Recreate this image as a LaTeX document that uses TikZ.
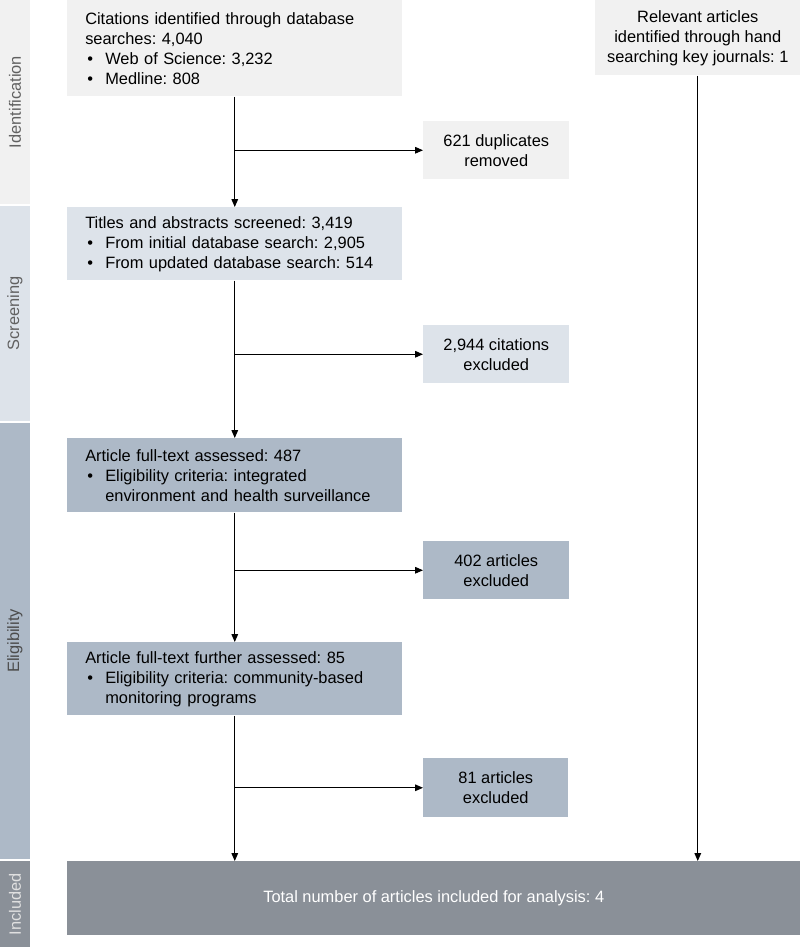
\documentclass[tikz,border=0pt]{standalone}
\usepackage{fontspec}
\setmainfont{Liberation Sans}
\usetikzlibrary{arrows.meta}

\definecolor{idgray}{HTML}{F1F1F1}
\definecolor{scrblue}{HTML}{DDE3EA}
\definecolor{eligblue}{HTML}{ADB9C7}
\definecolor{inclgray}{HTML}{8A9098}

\newcommand{\bul}{\makebox[15pt][l]{\hspace{1.5pt}\textbullet}}
\frenchspacing

\begin{document}
\begin{tikzpicture}[x=0.75pt,y=0.75pt,yscale=-1,xscale=1,
    font=\fontsize{12.3}{15}\selectfont,
    phase/.style={rotate=90, inner sep=0pt, minimum height=22.5pt, text=black!62},
    box/.style={anchor=north west, inner xsep=13.5pt, inner ysep=0pt, text width=224.25pt, minimum height=55pt, align=left},
    sidebox/.style={anchor=north west, inner sep=0pt, minimum width=109.5pt, minimum height=43.5pt, align=center},
    arr/.style={-{Triangle[length=6pt,width=5pt]}, line width=0.75pt}]
        \useasboundingbox (0,0) rectangle (800,949);

        % Phase bars
        \node [phase, fill=idgray, minimum width=153pt] (ident) at (15,102) {Identification};
        \node [phase, fill=scrblue, minimum width=161.25pt] (screen) at (15,313.5) {Screening};
        \node [phase, fill=eligblue, minimum width=327pt, text=black!70] (elig) at (15,641) {Eligibility};
        \node [phase, fill=inclgray, minimum width=64.5pt, text=white!88!black] (incl) at (15,904) {Included};

        % Main column
        \node [box, fill=idgray, minimum height=72pt] (cites) at (67,0) {Citations identified through database\\searches: 4,040\\\bul Web of Science: 3,232\\\bul Medline: 808};
        \node [box, fill=scrblue, minimum height=54.75pt] (titles) at (67,207) {Titles and abstracts screened: 3,419\\\bul From initial database search: 2,905\\\bul From updated database search: 514};
        \node [box, fill=eligblue, minimum height=55.5pt] (fulltext) at (67,438) {Article full-text assessed: 487\\\bul Eligibility criteria: integrated\\\hspace*{15pt}environment and health surveillance};
        \node [box, fill=eligblue, minimum height=54.75pt] (further) at (67,642) {Article full-text further assessed: 85\\\bul Eligibility criteria: community-based\\\hspace*{15pt}monitoring programs};

        % Exclusion boxes
        \node [sidebox, fill=idgray] (dups) at (423,121) {621 duplicates\\removed};
        \node [sidebox, fill=scrblue] (excl1) at (423,325) {2,944 citations\\excluded};
        \node [sidebox, fill=eligblue] (excl2) at (423,541) {402 articles\\excluded};
        \node [sidebox, fill=eligblue, minimum width=108.75pt, minimum height=44.25pt] (excl3) at (423,758) {81 articles\\excluded};

        % Hand search and result
        \node [sidebox, fill=idgray, minimum width=153.75pt, minimum height=56.25pt] (hand) at (595,0) {Relevant articles\\identified through hand\\searching key journals: 1};
        \node [sidebox, fill=inclgray, minimum width=549.75pt, minimum height=55.5pt, text=white] (total) at (67,861) {Total number of articles included for analysis: 4};

        % Connectors
        \draw [arr] (cites.south) -- (titles.north);
        \draw [arr] (cites.south |- dups.west) -- (dups.west);
        \draw [arr] (titles.south) -- (fulltext.north);
        \draw [arr] (titles.south |- excl1.west) -- (excl1.west);
        \draw [arr] (fulltext.south) -- (further.north);
        \draw [arr] (fulltext.south |- excl2.west) -- (excl2.west);
        \draw [arr] (further.south) -- (further.south |- total.north);
        \draw [arr] (further.south |- excl3.west) -- (excl3.west);
        \draw [arr] (hand.south) -- (hand.south |- total.north);

    \end{tikzpicture}
\end{document}
